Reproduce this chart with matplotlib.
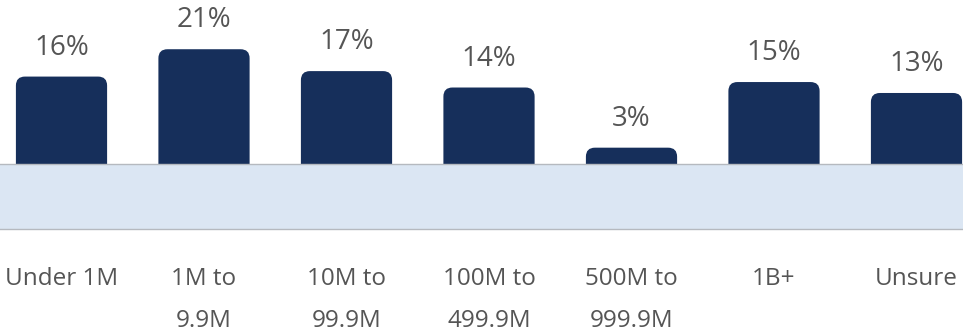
import matplotlib.pyplot as plt
from matplotlib.patches import FancyBboxPatch

plt.rcParams['font.family'] = ['Open Sans', 'DejaVu Sans']

categories = ['Under 1M', '1M to\n9.9M', '10M to\n99.9M', '100M to\n499.9M',
              '500M to\n999.9M', '1B+', 'Unsure']
shares = [16, 21, 17, 14, 3, 15, 13]
value_labels = ['16%', '21%', '17%', '14%', '3%', '15%', '13%']

navy = '#162f5b'
band_blue = '#dbe6f3'
text_grey = '#555555'

fig = plt.figure(figsize=(9.63, 3.32), dpi=100)
ax = fig.add_axes([0, 0, 1, 1])
ax.set_xlim(-0.4316, 6.3263)
ax.set_ylim(-30.7, 30.0)
ax.axis('off')

# pixel size of one data unit, used to keep the corner rounding circular
px_x = 963 / (6.3263 + 0.4316)
px_y = 332 / (30.0 + 30.7)
aspect = px_x / px_y

bars = ax.bar(range(len(shares)), shares, width=0.64, bottom=0, color='none')
radius = 9 / px_x
for rect in bars:
    x, w, h = rect.get_x(), rect.get_width(), rect.get_height()
    # start below the baseline so only the top corners show above the band
    patch = FancyBboxPatch((x + radius, -3 + radius * aspect),
                           w - 2 * radius, h + 3 - 2 * radius * aspect,
                           boxstyle=f'round,pad={radius},rounding_size={radius}',
                           mutation_aspect=aspect,
                           facecolor=navy, edgecolor='none', zorder=2)
    ax.add_patch(patch)

# light band under the bars
band_bottom = -65 / px_y
ax.axhspan(band_bottom, 0, color=band_blue, zorder=3, lw=0)
ax.axhline(0, color='#b5b9bf', lw=1, zorder=4)
ax.axhline(band_bottom, color='#b5b9bf', lw=1, zorder=4)

for i, (v, lab) in enumerate(zip(shares, value_labels)):
    ax.text(i, v + 22 / px_y, lab, ha='center', va='baseline',
            fontsize=20, color=text_grey)

# category names, one text per line so the first line sits on a fixed baseline
label_y = -(285 - 164) / px_y
line_step = 42 / px_y
for i, cat in enumerate(categories):
    for j, line in enumerate(cat.split('\n')):
        ax.text(i, label_y - j * line_step, line, ha='center', va='baseline',
                fontsize=17.5, color=text_grey)

fig.savefig('out.png', dpi=100)
